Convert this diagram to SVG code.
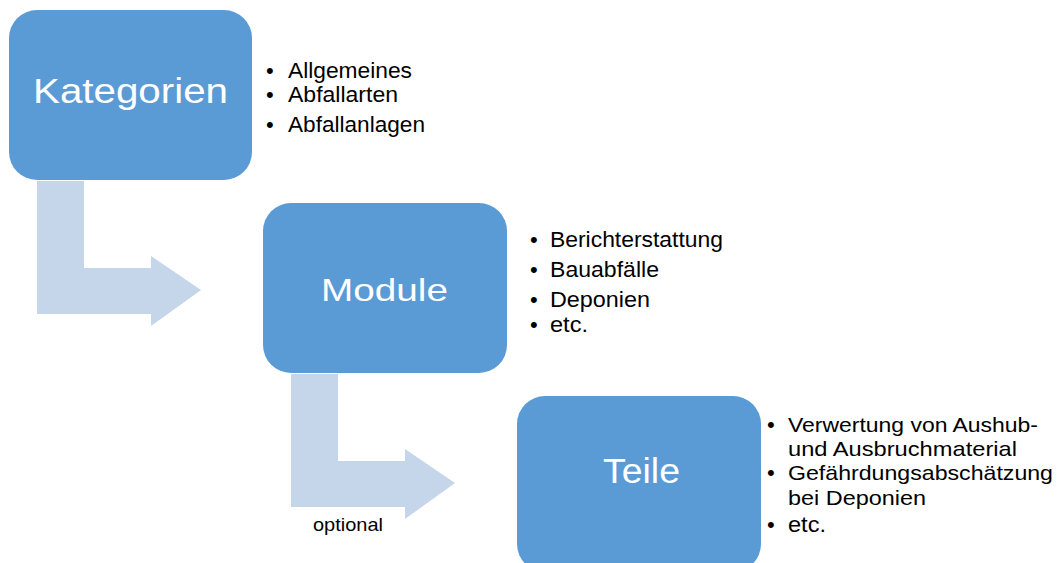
<svg xmlns="http://www.w3.org/2000/svg" width="1061" height="563" viewBox="0 0 1061 563">
<style>
.box{fill:#5B9BD5;}
.arrow{fill:#C5D5EA;}
.title{font-family:"Liberation Sans",Arial,sans-serif;fill:#FFFFFF;}
.bl{font-family:"Liberation Sans",Arial,sans-serif;fill:#000000;font-size:22px;}
.bs{font-family:"Liberation Sans",Arial,sans-serif;fill:#000000;font-size:21px;}
.opt{font-family:"Liberation Sans",Arial,sans-serif;fill:#000000;font-size:19px;}
</style>
<rect width="1061" height="563" fill="#FFFFFF"/>
<g id="connectors">
<path class="arrow" d="M37,181 H84 V268 H151 V256 L201,290 L151,326 V314 H37 Z"/>
<path class="arrow" d="M291,374 H338 V461 H405 V449 L455,483 L405,519 V507 H291 Z"/>
<text class="opt" x="313" y="531" textLength="70" lengthAdjust="spacingAndGlyphs">optional</text>
</g>
<g id="kategorien">
<rect class="box" x="9" y="10" width="243" height="170" rx="28" ry="28"/>
<text class="title" x="33" y="103" font-size="35" textLength="195" lengthAdjust="spacingAndGlyphs">Kategorien</text>
</g>
<g id="kategorien-list">
<text class="bl" x="266" y="78">•</text><text class="bl" x="288" y="78" textLength="124" lengthAdjust="spacingAndGlyphs">Allgemeines</text>
<text class="bl" x="266" y="102">•</text><text class="bl" x="288" y="102" textLength="110" lengthAdjust="spacingAndGlyphs">Abfallarten</text>
<text class="bl" x="266" y="132">•</text><text class="bl" x="288" y="132" textLength="137" lengthAdjust="spacingAndGlyphs">Abfallanlagen</text>
</g>
<g id="module">
<rect class="box" x="263" y="203" width="244" height="170" rx="28" ry="28"/>
<text class="title" x="321" y="301" font-size="32" textLength="127" lengthAdjust="spacingAndGlyphs">Module</text>
</g>
<g id="module-list">
<text class="bl" x="530" y="247">•</text><text class="bl" x="550" y="247" textLength="173" lengthAdjust="spacingAndGlyphs">Berichterstattung</text>
<text class="bl" x="530" y="277">•</text><text class="bl" x="550" y="277" textLength="109" lengthAdjust="spacingAndGlyphs">Bauabfälle</text>
<text class="bl" x="530" y="307">•</text><text class="bl" x="550" y="307" textLength="100" lengthAdjust="spacingAndGlyphs">Deponien</text>
<text class="bl" x="530" y="332">•</text><text class="bl" x="550" y="332" textLength="38" lengthAdjust="spacingAndGlyphs">etc.</text>
</g>
<g id="teile">
<rect class="box" x="517" y="396" width="244" height="176" rx="28" ry="28"/>
<text class="title" x="603" y="483" font-size="35" textLength="77" lengthAdjust="spacingAndGlyphs">Teile</text>
</g>
<g id="teile-list">
<text class="bl" x="767" y="432">•</text><text class="bs" x="788" y="432" textLength="250" lengthAdjust="spacingAndGlyphs">Verwertung von Aushub-</text>
<text class="bs" x="788" y="456" textLength="229" lengthAdjust="spacingAndGlyphs">und Ausbruchmaterial</text>
<text class="bl" x="767" y="480">•</text><text class="bs" x="788" y="480" textLength="265" lengthAdjust="spacingAndGlyphs">Gefährdungsabschätzung</text>
<text class="bs" x="788" y="505" textLength="138" lengthAdjust="spacingAndGlyphs">bei Deponien</text>
<text class="bl" x="767" y="532">•</text><text class="bl" x="788" y="532" textLength="38" lengthAdjust="spacingAndGlyphs">etc.</text>
</g>
</svg>
